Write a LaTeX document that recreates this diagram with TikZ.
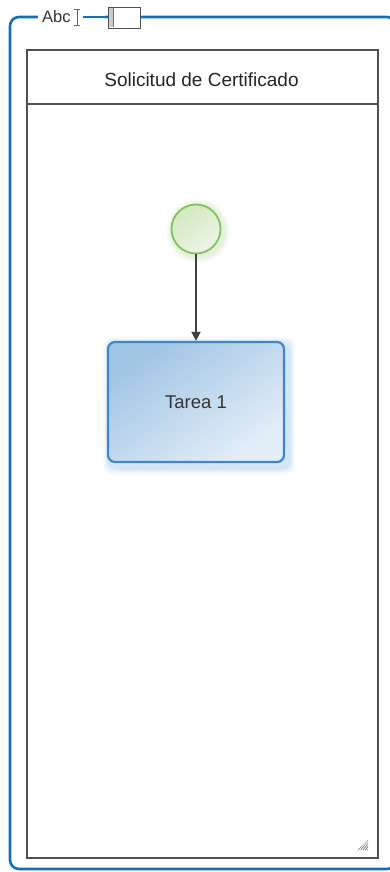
\documentclass[tikz,border=0pt]{standalone}
\usepackage{fontspec}
\setmainfont{Liberation Sans}
\usetikzlibrary{arrows.meta}
\definecolor{frameblue}{RGB}{20,110,190}
\definecolor{poolgray}{RGB}{80,80,80}
\definecolor{taskline}{RGB}{60,135,205}
\definecolor{taskdark}{RGB}{160,196,228}
\definecolor{tasklight}{RGB}{228,238,248}
\definecolor{evline}{RGB}{130,195,95}
\definecolor{evdark}{RGB}{210,232,190}
\definecolor{evlight}{RGB}{238,245,232}
\tikzset{
  pool/.style={draw=poolgray, line width=2.2pt, fill=white},
  startev/.style={circle, draw=evline, line width=1.8pt, minimum size=49pt, inner sep=0pt,
    top color=evdark, bottom color=evlight, shading angle=35},
  taskbox/.style={rounded corners=7pt, draw=taskline, line width=2.2pt,
    left color=taskdark, right color=tasklight, shading angle=35,
    minimum width=176pt, minimum height=120pt, font=\fontsize{18.5}{22}\selectfont, text=black!80},
  flow/.style={-{Triangle[length=9pt,width=9pt]}, line width=1.6pt, draw=black!75},
  lbl/.style={font=\fontsize{19}{22}\selectfont, text=black!85},
}
\begin{document}
\begin{tikzpicture}[x=1pt,y=-1pt]
\useasboundingbox (0,0) rectangle (390,872);
\begin{scope}
\clip (0,0) rectangle (390,872);
% outer blue frame
\draw[frameblue, line width=2.6pt, rounded corners=9pt] (10,17) rectangle (396,869);
% cover top line where label sits
\fill[white] (38,8) rectangle (105,27);
\end{scope}
% label Abc
\node[font=\fontsize{16.5}{18}\selectfont, text=black!80, inner sep=0pt, anchor=base west] (abc) at (42,23) {Abc};
% I cursor
\draw[black!60, line width=0.9pt] (77,9) -- (77,25) (74,9) -- (80,9) (74,25) -- (80,25);
\draw[frameblue, line width=2.6pt] (83,17) -- (108,17);
% small box
\node[draw=poolgray, line width=1.2pt, fill=white, minimum width=32pt, minimum height=21pt, inner sep=0pt, anchor=north west] (tb) at (108,7) {};
\fill[black!20] (109,8) rectangle (113,27);
\draw[black!55, line width=0.8pt] (113,8) -- (113,27);
% pool
\node[pool, minimum width=351pt, minimum height=808pt, inner sep=0pt, anchor=north west] (pool) at (26,49) {};
\draw[poolgray, line width=2.2pt] (26,104) -- (377,104);
\node[lbl] (title) at (201.5,80) {Solicitud de Certificado};
% resize grip
\foreach \i in {0,...,5} {
  \draw[black!55, line width=0.7pt, dash pattern=on 0.8pt off 0.8pt] (358+\i*1.8,850) -- (368,840+\i*1.8);
}
% soft glows
\foreach \r/\o in {7/0.04,5.5/0.05,4/0.06,2.5/0.07} {
  \fill[evline, opacity=\o] (198,231) circle (25+\r);
  \fill[taskline, opacity=\o, rounded corners=9pt] (108-\r+2,341-\r+3) rectangle (286+\r+2,464+\r+3);
}
% start event and task
\node[startev] (start) at (196,229) {};
\node[taskbox] (task) at (196,402) {Tarea 1};
\draw[flow] (start) -- (task);
\end{tikzpicture}
\end{document}
